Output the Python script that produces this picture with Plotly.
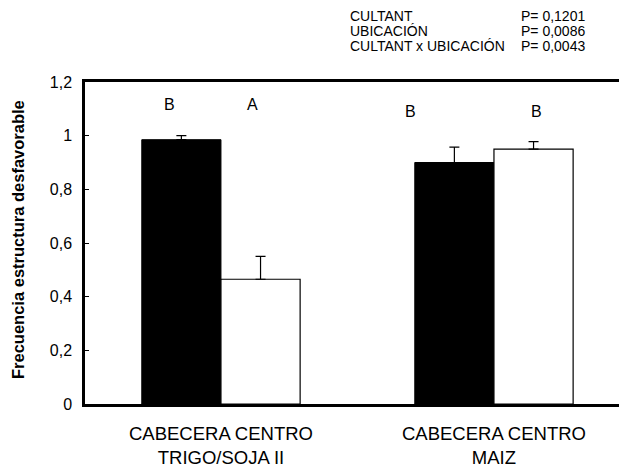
import plotly.graph_objects as go

# ── Data ──────────────────────────────────────────────────────────────────────
sitios = ["CABECERA CENTRO<br>TRIGO/SOJA II", "CABECERA CENTRO<br>MAIZ"]
cabecera = [0.985, 0.90]
cabecera_err = [0.015, 0.057]
centro = [0.465, 0.95]
centro_err = [0.085, 0.028]
letras = ["B", "A", "B", "B"]
efectos = ["CULTANT", "UBICACIÓN", "CULTANT x UBICACIÓN"]
p_valores = ["0,1201", "0,0086", "0,0043"]
y_ticks = [0, 0.2, 0.4, 0.6, 0.8, 1, 1.2]
y_ticktext = ["0", "0,2", "0,4", "0,6", "0,8", "1", "1,2"]

FONT = "Arial, Liberation Sans, sans-serif"

W, H = 619, 468
L, T, B = 85, 82, 64
PW, PH = W - L, H - T - B


def px_x(x):  # page px -> paper x
    return (x - L) / PW


def px_y(y):  # page px -> paper y
    return (H - B - y) / PH


fig = go.Figure()
fig.add_trace(go.Bar(
    x=sitios, y=cabecera, name="Cabecera",
    marker=dict(color="black", line=dict(color="black", width=1)),
    error_y=dict(type="data", array=cabecera_err, arrayminus=[0, 0], symmetric=False,
                 color="black", thickness=1.2, width=5),
))
fig.add_trace(go.Bar(
    x=sitios, y=centro, name="Centro",
    marker=dict(color="white", line=dict(color="black", width=1.2)),
    error_y=dict(type="data", array=centro_err, arrayminus=[0, 0], symmetric=False,
                 color="black", thickness=1.2, width=5),
))

# significance letters (placed like the original, not bar-centred)
letra_x = [-0.19, 0.117, 0.696, 1.154]
letra_y = [1.118, 1.118, 1.09, 1.09]
for lx, ly, t in zip(letra_x, letra_y, letras):
    fig.add_annotation(x=lx, y=ly, text=t, showarrow=False,
                       font=dict(family=FONT, size=16, color="black"))

# P-value block, top right
for i, (ef, pv) in enumerate(zip(efectos, p_valores)):
    yy = px_y(16 + 15 * i)
    fig.add_annotation(xref="paper", yref="paper", x=px_x(348), y=yy,
                       text=ef, showarrow=False, xanchor="left", yanchor="middle",
                       font=dict(family=FONT, size=14, color="black"))
    fig.add_annotation(xref="paper", yref="paper", x=px_x(587), y=yy,
                       text="P= " + pv, showarrow=False, xanchor="right", yanchor="middle",
                       font=dict(family=FONT, size=14, color="black"))

# y-axis title
fig.add_annotation(xref="paper", yref="paper", x=px_x(18), y=px_y(240),
                   xanchor="center", yanchor="middle",
                   text="<b>Frecuencia estructura desfavorable</b>", textangle=-90,
                   showarrow=False, font=dict(family=FONT, size=16.5, color="black"))

fig.update_layout(
    width=W, height=H,
    margin=dict(l=L, r=0, t=T, b=B, autoexpand=False),
    paper_bgcolor="white", plot_bgcolor="white",
    barmode="group", bargap=0.42, bargroupgap=0,
    showlegend=False,
    font=dict(family=FONT, color="black", size=15),
    xaxis=dict(range=[-0.498, 1.458], showgrid=False, zeroline=False,
               showline=True, linecolor="black", linewidth=2.5, mirror=True,
               ticks="", tickfont=dict(size=18.5), ticklabelstandoff=11),
    yaxis=dict(range=[0, 1.2], tickvals=y_ticks, ticktext=y_ticktext,
               showgrid=False, zeroline=False, showline=True, linecolor="black",
               linewidth=2.5, ticks="inside", ticklen=4, tickcolor="black",
               tickfont=dict(size=16), ticklabelstandoff=7),
)

# drop the page's default body margin so the figure fills the window exactly
fig.write_html("out.html", config={"displayModeBar": False},
               post_script="document.body.style.margin='0';")
